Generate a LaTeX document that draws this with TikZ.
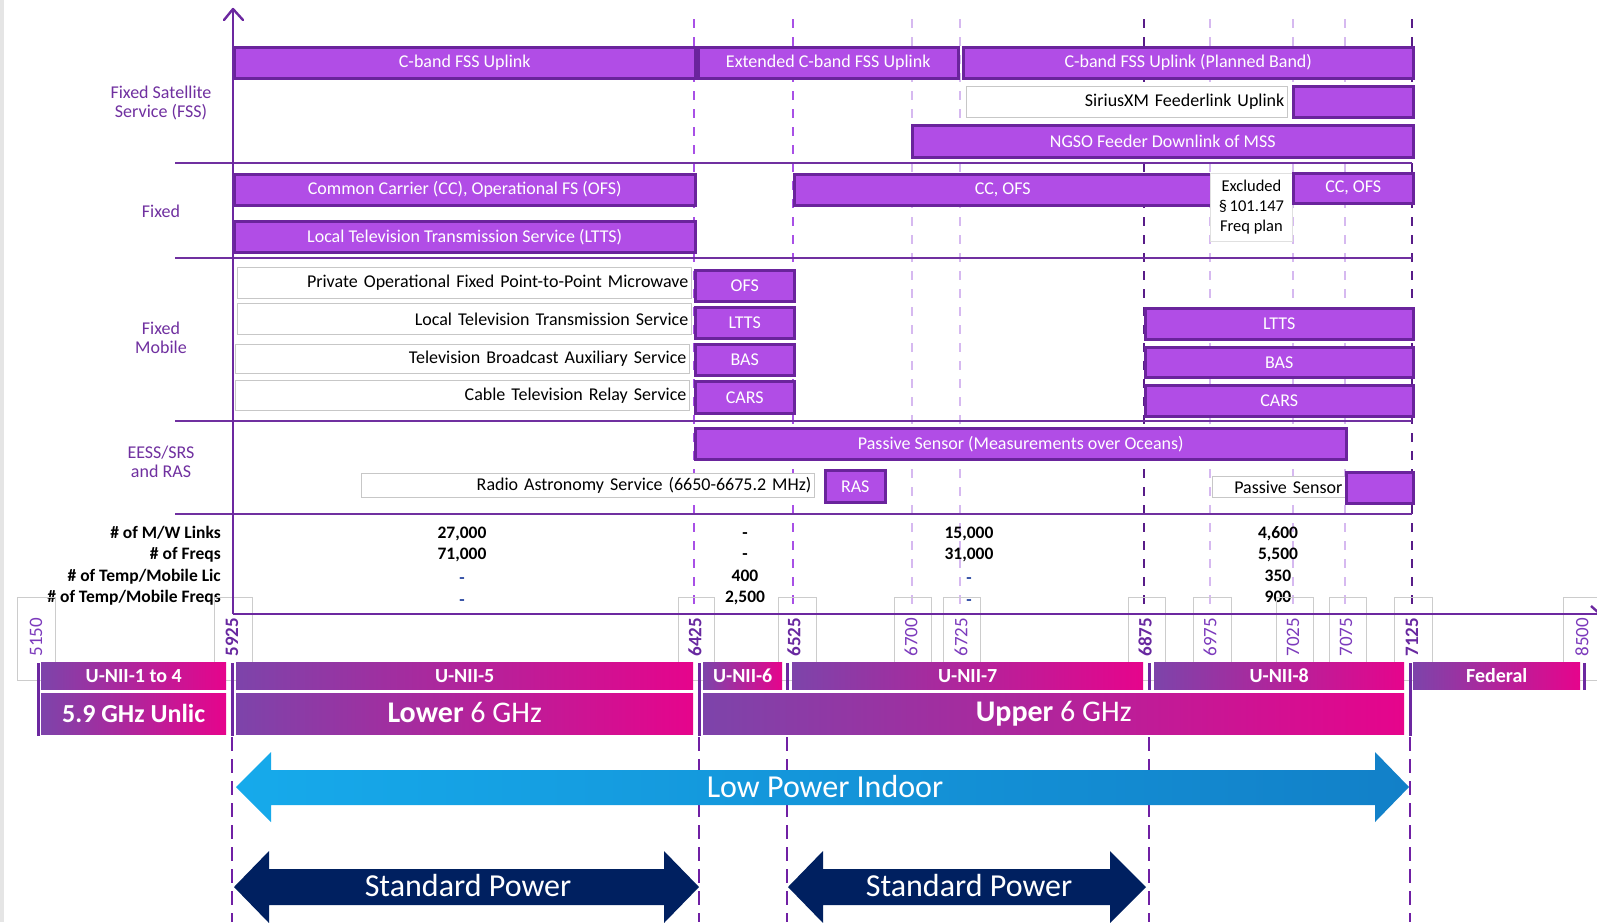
\documentclass[tikz,border=0pt]{standalone}
\usepackage{fontspec}
\setmainfont{Carlito}
\definecolor{pfill}{RGB}{177,77,230}
\definecolor{pborder}{RGB}{106,36,156}
\definecolor{secpurple}{RGB}{112,48,160}
\definecolor{axiscol}{RGB}{108,40,160}
\definecolor{ldashc}{RGB}{214,185,240}
\definecolor{mdashc}{RGB}{168,80,230}
\definecolor{ddashc}{RGB}{88,28,136}
\definecolor{lowdash}{RGB}{112,32,164}
\definecolor{bandL}{RGB}{125,68,170}
\definecolor{bandR}{RGB}{230,4,140}
\definecolor{lpL}{RGB}{22,170,235}
\definecolor{lpR}{RGB}{18,128,200}
\definecolor{navy}{RGB}{0,32,96}
\definecolor{dashblue}{RGB}{40,70,160}
\definecolor{freqc}{RGB}{124,58,188}
\definecolor{freqb}{RGB}{104,40,160}
\newcommand{\boxfont}{\fontsize{18}{20}\selectfont}
\newcommand{\mkbox}[6]{%
  \pgfmathsetmacro{\myW}{#4-#2}\pgfmathsetmacro{\myH}{#5-#3}%
  \node[pbox, minimum width=\myW pt, minimum height=\myH pt, anchor=north west] (#1) at (#2,#3) {#6};}
\newcommand{\mkwbox}[6]{%
  \pgfmathsetmacro{\myW}{#4-#2}\pgfmathsetmacro{\myH}{#5-#3}\pgfmathsetmacro{\myT}{#4-#2-6}%
  \node[wbox, minimum width=\myW pt, minimum height=\myH pt, text width=\myT pt, align=right, anchor=north west] (#1) at (#2,#3) {#6};}
\newcommand{\mkband}[7]{%
  \pgfmathsetmacro{\myW}{#4-#2}\pgfmathsetmacro{\myH}{#5-#3}%
  \node[bandbox, minimum width=\myW pt, minimum height=\myH pt, anchor=north west, font=#6] (#1) at (#2,#3) {#7};}
\tikzset{
  pbox/.style={draw=pborder, line width=2.5pt, fill=pfill, text=white, inner sep=0pt, font=\boxfont},
  wbox/.style={draw=black!22, line width=0.8pt, fill=white, text=black, inner xsep=3pt, inner ysep=0pt, font=\boxfont},
  bandbox/.style={left color=bandL, right color=bandR, text=white, inner sep=0pt},
  seclab/.style={text=secpurple, align=center, font=\fontsize{18}{19.5}\selectfont},
  dlab/.style={text=black, inner sep=0pt, text height=11.3pt, text depth=0pt, font=\fontsize{17.5}{19}\selectfont\bfseries},
  flab/.style={text=freqc, rotate=90, inner sep=0pt, font=\fontsize{19}{20}\selectfont},
  fbold/.style={text=freqb, rotate=90, inner sep=0pt, font=\fontsize{19}{20}\selectfont\bfseries},
  fframe/.style={draw=black!20, line width=0.8pt},
  ldash/.style={draw=ldashc, line width=2pt, dash pattern=on 9pt off 9pt},
  mdash/.style={draw=mdashc, line width=2pt, dash pattern=on 9pt off 9pt},
  ddash/.style={draw=ddashc, line width=2pt, dash pattern=on 9pt off 9pt},
  lodash/.style={draw=lowdash, line width=2.4pt, dash pattern=on 14pt off 8pt},
  sepline/.style={draw=secpurple, line width=2pt},
  axisline/.style={draw=axiscol, line width=2.4pt},
  vsol/.style={draw=axiscol, line width=3pt},
  arrtext/.style={text=white, inner sep=0pt, font=\fontsize{32}{34}\selectfont}
}
\begin{document}
\begin{tikzpicture}[x=1pt,y=-1pt]
\clip (0,0) rectangle (1597,922);
\fill[white] (0,0) rectangle (1597,922);
\fill[black!10] (0,0) rectangle (4,922);

% upper dashed frequency lines
\foreach \x in {912,960,1210,1293,1345} \draw[ldash] (\x,19) -- (\x,614);
\foreach \x in {694,793} \draw[mdash] (\x,19) -- (\x,614);
\foreach \x in {1144,1412} \draw[ddash] (\x,19) -- (\x,614);

% section separators
\foreach \y in {163,258,421,514} \draw[sepline] (175,\y) -- (1412,\y);

% section labels
\node[seclab] (sFSS) at (161,103) {Fixed Satellite\\Service (FSS)};
\node[seclab] (sFixed) at (161,211) {Fixed};
\node[seclab] (sFM) at (161,338) {Fixed\\Mobile};
\node[seclab] (sEESS) at (161,462) {EESS/SRS\\and RAS};

% FSS
\mkbox{b1}{233}{46}{694}{77}{C-band FSS Uplink}
\mkbox{b2}{697}{46}{957}{77}{Extended C-band FSS Uplink}
\mkbox{b3}{962}{46}{1412}{77}{C-band FSS Uplink (Planned Band)}
\mkwbox{w1}{966}{86}{1287}{117}{SiriusXM Feederlink Uplink}
\mkbox{b4}{1292}{85}{1412}{116}{}
\mkbox{b5}{911}{124}{1412}{156}{NGSO Feeder Downlink of MSS}
% Fixed
\mkbox{b6}{233}{173}{694}{204}{Common Carrier (CC), Operational FS (OFS)}
\mkbox{b7}{233}{220}{694}{251}{Local Television Transmission Service (LTTS)}
\mkbox{b8}{793}{173}{1210}{204}{CC, OFS}
\node[wbox, draw=black!12, minimum width=82pt, minimum height=68pt, anchor=north west, align=center, font=\fontsize{16.5}{20}\selectfont] (w2) at (1210,173) {Excluded\\\S\,101.147\\Freq plan};
\mkbox{b9}{1292}{172}{1412}{202}{CC, OFS}
% Fixed Mobile
\mkwbox{w3}{237}{267}{691}{298}{Private Operational Fixed Point-to-Point Microwave}
\mkbox{b10}{694}{269}{793}{300}{OFS}
\mkwbox{w4}{237}{303}{691}{334}{Local Television Transmission Service}
\mkbox{b11}{694}{306}{793}{337}{LTTS}
\mkwbox{w5}{235}{344}{689}{373}{Television Broadcast Auxiliary Service}
\mkbox{b12}{694}{343}{793}{374}{BAS}
\mkwbox{w6}{235}{380}{689}{410}{Cable Television Relay Service}
\mkbox{b13}{694}{380}{793}{412}{CARS}
\mkbox{b14}{1144}{307}{1412}{338}{LTTS}
\mkbox{b15}{1144}{346}{1412}{376}{BAS}
\mkbox{b16}{1144}{384}{1412}{415}{CARS}
% EESS
\mkbox{b17}{694}{427}{1345}{458}{Passive Sensor (Measurements over Oceans)}
\mkwbox{w7}{361}{473}{814}{497}{Radio Astronomy Service (6650-6675.2 MHz)}
\mkbox{b18}{824}{469}{884}{501}{RAS}
\mkwbox{w8}{1212}{476}{1345}{497}{Passive Sensor}
\mkbox{b19}{1345}{471}{1412}{502}{}

% data rows
\node[dlab, anchor=east] (d1) at (221,533) {\# of M/W Links};
\node[dlab, anchor=east] (d2) at (221,554) {\# of Freqs};
\node[dlab, anchor=east] (d3) at (221,576) {\# of Temp/Mobile Lic};
\node[dlab, anchor=east] (d4) at (221,597) {\# of Temp/Mobile Freqs};
\node[dlab] (v11) at (462,533) {27,000};
\node[dlab] (v12) at (462,554) {71,000};
\node[dlab, text=dashblue] (v13) at (462,578) {-};
\node[dlab, text=dashblue] (v14) at (462,600) {-};
\node[dlab] (v21) at (745,533) {-};
\node[dlab] (v22) at (745,554) {-};
\node[dlab] (v23) at (745,576) {400};
\node[dlab] (v24) at (745,597) {2,500};
\node[dlab] (v31) at (969,533) {15,000};
\node[dlab] (v32) at (969,554) {31,000};
\node[dlab, text=dashblue] (v33) at (969,578) {-};
\node[dlab, text=dashblue] (v34) at (969,600) {-};
\node[dlab] (v41) at (1278,533) {4,600};
\node[dlab] (v42) at (1278,554) {5,500};
\node[dlab] (v43) at (1278,576) {350};
\node[dlab] (v44) at (1278,597) {900};

% frequency label frames
\foreach \a/\b in {17/55,214/252,678/714,778/816,894/931,943/980,1128/1165,1193/1231,1276/1313,1329/1366,1394/1432,1563/1601}
  \draw[fframe] (\a,597) rectangle (\b,680);

% axes
\draw[axisline] (233,614) -- (1603,614);
\draw[axisline] (1591,606) -- (1600,614);
\draw[axisline] (233,614) -- (233,9);
\draw[axisline, line cap=round, line join=round] (224,20) -- (233,9) -- (243,20);

% frequency labels
\node[flab] (f5150) at (36,637) {5150};
\node[fbold] (f5925) at (232,637) {5925};
\node[fbold] (f6425) at (695,637) {6425};
\node[fbold] (f6525) at (794,637) {6525};
\node[flab] (f6700) at (911,637) {6700};
\node[flab] (f6725) at (961,637) {6725};
\node[fbold] (f6875) at (1145,637) {6875};
\node[flab] (f6975) at (1210,637) {6975};
\node[flab] (f7025) at (1293,637) {7025};
\node[flab] (f7075) at (1346,637) {7075};
\node[fbold] (f7125) at (1412,637) {7125};
\node[flab] (f8500) at (1582,637) {8500};

% bands
\mkband{u14}{41}{662}{226}{689}{\fontsize{20}{22}\selectfont\bfseries}{U-NII-1 to 4}
\mkband{u5}{236}{662}{693}{689}{\fontsize{20}{22}\selectfont\bfseries}{U-NII-5}
\mkband{u6}{703}{662}{782}{689}{\fontsize{20}{22}\selectfont\bfseries}{U-NII-6}
\mkband{u7}{792}{662}{1143}{689}{\fontsize{20}{22}\selectfont\bfseries}{U-NII-7}
\mkband{u8}{1154}{662}{1404}{689}{\fontsize{20}{22}\selectfont\bfseries}{U-NII-8}
\mkband{fed}{1413}{662}{1580}{689}{\fontsize{20}{22}\selectfont\bfseries}{Federal}
\mkband{g59}{41}{693}{226}{734}{\fontsize{26}{28}\selectfont\bfseries}{\raisebox{1.5pt}{5.9 GHz Unlic}}
\mkband{glow}{236}{693}{693}{734}{\fontsize{30}{32}\selectfont}{\raisebox{2pt}{\textbf{Lower} 6 GHz}}
\mkband{gup}{703}{693}{1404}{734}{\fontsize{30}{32}\selectfont}{\raisebox{2pt}{\textbf{Upper} 6 GHz}}
\foreach \x in {38,232,699,1410} \draw[vsol] (\x,663) -- (\x,736);
\foreach \x in {787,1149,1584} \draw[vsol] (\x,663) -- (\x,690);

% lower dashed lines
\foreach \x in {232,699,787,1149,1410} \draw[lodash] (\x,737) -- (\x,922);

% power arrows
\shade[left color=lpL, right color=lpR] (236,787) -- (271,752) -- (271,770) -- (1375,770) -- (1375,752) -- (1409,787) -- (1375,822) -- (1375,805) -- (271,805) -- (271,822) -- cycle;
\node[arrtext] (lpi) at (825,786) {Low Power Indoor};
\fill[navy] (234,887) -- (269,851) -- (269,869) -- (664,869) -- (664,851) -- (699,887) -- (664,923) -- (664,905) -- (269,905) -- (269,923) -- cycle;
\node[arrtext] (sp1) at (468,885) {Standard Power};
\fill[navy] (788,887) -- (823,851) -- (823,869) -- (1110,869) -- (1110,851) -- (1146,887) -- (1110,923) -- (1110,905) -- (823,905) -- (823,923) -- cycle;
\node[arrtext] (sp2) at (969,885) {Standard Power};
\end{tikzpicture}
\end{document}
